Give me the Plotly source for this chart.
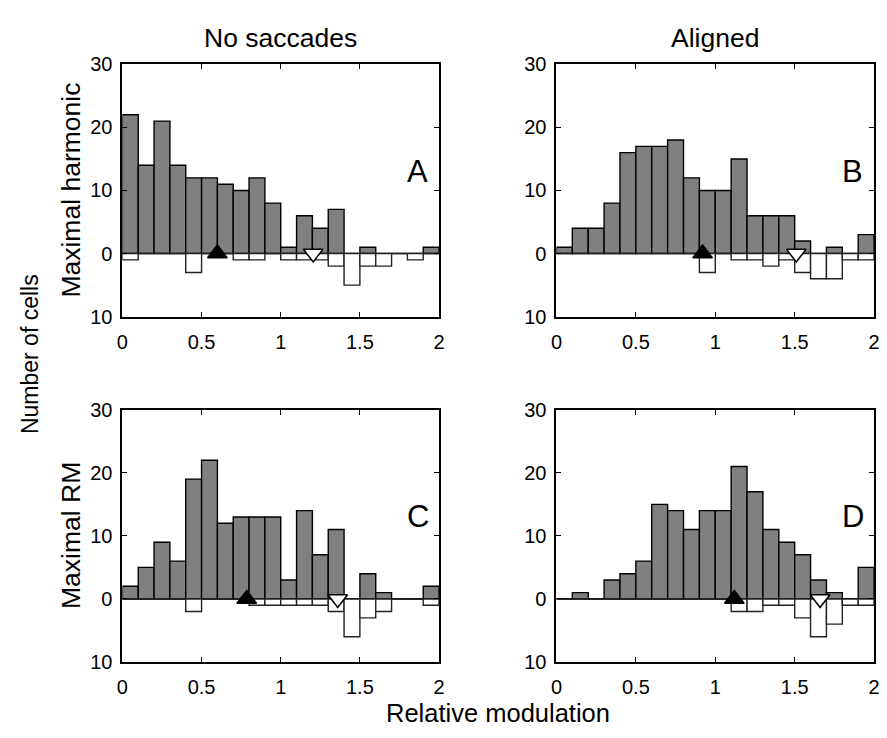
import plotly.graph_objects as go

# ---------------- data ----------------
bin_edges = [round(0.1 * i, 1) for i in range(21)]
bin_centers = [round((bin_edges[i] + bin_edges[i + 1]) / 2, 3) for i in range(20)]

# Panel A: No saccades / Maximal harmonic
A_gray = [22, 14, 21, 14, 12, 12, 11, 10, 12, 8, 1, 6, 4, 7, 0, 1, 0, 0, 0, 1]
A_white = [1, 0, 0, 0, 3, 0, 0, 1, 1, 0, 1, 1, 1, 2, 5, 2, 2, 0, 1, 0]
# Panel B: Aligned / Maximal harmonic
B_gray = [1, 4, 4, 8, 16, 17, 17, 18, 12, 10, 10, 15, 6, 6, 6, 2, 0, 1, 0, 3]
B_white = [0, 0, 0, 0, 0, 0, 0, 0, 0, 3, 0, 1, 1, 2, 1, 3, 4, 4, 1, 1]
# Panel C: No saccades / Maximal RM
C_gray = [2, 5, 9, 6, 19, 22, 12, 13, 13, 13, 3, 14, 7, 11, 0, 4, 1, 0, 0, 2]
C_white = [0, 0, 0, 0, 2, 0, 0, 0, 1, 1, 1, 1, 1, 2, 6, 3, 2, 0, 0, 1]
# Panel D: Aligned / Maximal RM
D_gray = [0, 1, 0, 3, 4, 6, 15, 14, 11, 14, 14, 21, 17, 11, 9, 7, 3, 1, 0, 5]
D_white = [0, 0, 0, 0, 0, 0, 0, 0, 0, 0, 0, 2, 2, 1, 1, 3, 6, 4, 1, 1]

# medians (triangle markers)
median_gray = {"A": 0.60, "B": 0.92, "C": 0.785, "D": 1.12}
median_white = {"A": 1.205, "B": 1.51, "C": 1.36, "D": 1.66}

panel_letters = ["A", "B", "C", "D"]
col_titles = ["No saccades", "Aligned"]
row_titles = ["Maximal harmonic", "Maximal RM"]
x_tickvals = [0, 0.5, 1, 1.5, 2]
x_ticktext = ["0", "0.5", "1", "1.5", "2"]
y_tickvals = [-10, 0, 10, 20, 30]
y_ticktext = ["10", "0", "10", "20", "30"]

gray_data = {"A": A_gray, "B": B_gray, "C": C_gray, "D": D_gray}
white_data = {"A": A_white, "B": B_white, "C": C_white, "D": D_white}

# ---------------- layout geometry ----------------
W, H = 887, 738
x_dom = [(118 / W, 439 / W), (558 / W, 880 / W)]
y_dom = [(1 - 315 / H, 1 - 55 / H), (1 - 671 / H, 1 - 411 / H)]

FONT = "Liberation Sans, Arial, sans-serif"
GRAY = "#808080"
TICK_SIZE = 20

fig = go.Figure()
layout = dict(
    width=W, height=H,
    margin=dict(l=0, r=0, t=0, b=0),
    paper_bgcolor="white", plot_bgcolor="white",
    showlegend=False,
    font=dict(family=FONT, color="black", size=TICK_SIZE),
    bargap=0, barmode="overlay",
)

annotations = []
for idx, p in enumerate(panel_letters):
    r, c = divmod(idx, 2)
    n = idx + 1
    xa = "x" if n == 1 else f"x{n}"
    ya = "y" if n == 1 else f"y{n}"
    fig.add_trace(go.Bar(
        x=bin_centers, y=gray_data[p], width=0.1,
        marker=dict(color=GRAY, line=dict(color="black", width=1.4)),
        xaxis=xa, yaxis=ya, hoverinfo="skip"))
    fig.add_trace(go.Bar(
        x=bin_centers, y=[-v for v in white_data[p]], width=0.1,
        marker=dict(color="white", line=dict(color="#222222", width=1.4)),
        xaxis=xa, yaxis=ya, hoverinfo="skip"))
    fig.add_trace(go.Scatter(
        x=[median_gray[p]], y=[0], mode="markers",
        marker=dict(symbol="triangle-up", size=17, color="black",
                    line=dict(color="black", width=1.5)),
        xaxis=xa, yaxis=ya, hoverinfo="skip"))
    fig.add_trace(go.Scatter(
        x=[median_white[p]], y=[0], mode="markers",
        marker=dict(symbol="triangle-down", size=17, color="white",
                    line=dict(color="black", width=1.5)),
        xaxis=xa, yaxis=ya, hoverinfo="skip"))

    xkey = "xaxis" if n == 1 else f"xaxis{n}"
    ykey = "yaxis" if n == 1 else f"yaxis{n}"
    layout[xkey] = dict(
        domain=list(x_dom[c]), anchor=ya, range=[0, 2],
        tickvals=x_tickvals, ticktext=x_ticktext,
        ticks="inside", ticklen=5, tickwidth=1, tickcolor="black",
        showline=True, linecolor="black", linewidth=2, mirror="ticks",
        showgrid=False, zeroline=False, ticklabelstandoff=6,
        tickfont=dict(size=TICK_SIZE, family=FONT, color="black"), fixedrange=True)
    layout[ykey] = dict(
        domain=list(y_dom[r]), anchor=xa, range=[-10, 30],
        tickvals=y_tickvals, ticktext=y_ticktext,
        ticks="inside", ticklen=5, tickwidth=1, tickcolor="black",
        showline=True, linecolor="black", linewidth=2, mirror="ticks",
        showgrid=False, zeroline=True, zerolinecolor="black", zerolinewidth=1,
        ticklabelstandoff=4,
        tickfont=dict(size=TICK_SIZE, family=FONT, color="black"), fixedrange=True)

    annotations.append(dict(
        text=p, x=1.865, y=13, xref=xa, yref=ya, showarrow=False,
        xanchor="center", yanchor="middle",
        font=dict(size=31, family=FONT, color="black")))

# column titles
for c, t in enumerate(col_titles):
    annotations.append(dict(
        text=t, x=(x_dom[c][0] + x_dom[c][1]) / 2, y=1 - 28 / H,
        xref="paper", yref="paper", showarrow=False,
        xanchor="center", yanchor="middle",
        font=dict(size=26.5, family=FONT, color="black")))
# row titles
for r, t in enumerate(row_titles):
    annotations.append(dict(
        text=t, x=66 / W, y=(y_dom[r][0] + y_dom[r][1]) / 2,
        xref="paper", yref="paper", showarrow=False, textangle=-90,
        xanchor="center", yanchor="middle",
        font=dict(size=26.5, family=FONT, color="black")))
annotations.append(dict(
    text="Number of cells", x=25 / W, y=1 - 354 / H,
    xref="paper", yref="paper", showarrow=False, textangle=-90,
    xanchor="center", yanchor="middle",
    font=dict(size=23, family=FONT, color="black")))
annotations.append(dict(
    text="Relative modulation", x=499 / W, y=1 - 724 / H,
    xref="paper", yref="paper", showarrow=False,
    xanchor="center", yanchor="middle",
    font=dict(size=25.5, family=FONT, color="black")))

layout["annotations"] = annotations
fig.update_layout(**layout)
fig.write_html(
    "out.html",
    config={"displayModeBar": False, "staticPlot": True},
    post_script="document.body.style.margin='0px';document.body.style.overflow='hidden';",
)
